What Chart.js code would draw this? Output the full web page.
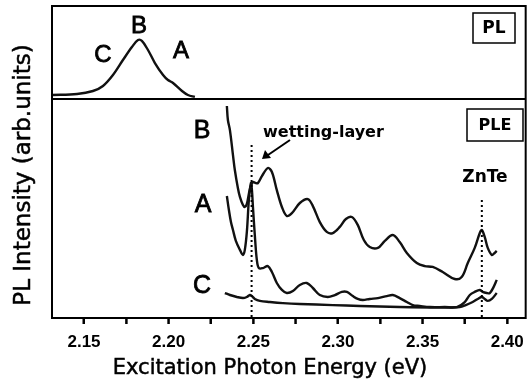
<!DOCTYPE html>
<html>
<head>
<meta charset="utf-8">
<script src="https://cdn.jsdelivr.net/npm/chart.js@4.4.1/dist/chart.umd.min.js"></script>
<style>
  html, body { margin: 0; padding: 0; background: #fff; }
  canvas { display: block; }
</style>
</head>
<body>
<canvas id="spectra" width="532" height="382"></canvas>
<script>
// PL spectrum (top panel), energy in eV, intensity in arb. units
const plEnergy    = [2.1311, 2.1459, 2.1553, 2.1612, 2.1671, 2.1730, 2.1783, 2.1819, 2.1842, 2.1878, 2.1919, 2.1967, 2.1996, 2.2026, 2.2079, 2.2114, 2.2155];
const plIntensity = [0.043, 0.054, 0.086, 0.140, 0.258, 0.419, 0.559, 0.634, 0.624, 0.527, 0.387, 0.258, 0.204, 0.172, 0.086, 0.043, 0.022];

// PLE spectra detected at B, A and C
const pleBEnergy    = [2.2344, 2.2350, 2.2362, 2.2380, 2.2391, 2.2409, 2.2421, 2.2439, 2.2450, 2.2462, 2.2480, 2.2498, 2.2515, 2.2527, 2.2551, 2.2586, 2.2610, 2.2639, 2.2669, 2.2698, 2.2728, 2.2775, 2.2822, 2.2852, 2.2893, 2.2934, 2.2970, 2.3011, 2.3047, 2.3082, 2.3117, 2.3153, 2.3188, 2.3236, 2.3277, 2.3324, 2.3365, 2.3407, 2.3466, 2.3513, 2.3560, 2.3619, 2.3690, 2.3731, 2.3767, 2.3808, 2.3838, 2.3850, 2.3867, 2.3885, 2.3909, 2.3926, 2.3938];
const pleBIntensity = [0.968, 0.904, 0.858, 0.744, 0.676, 0.594, 0.553, 0.516, 0.507, 0.521, 0.589, 0.621, 0.616, 0.616, 0.648, 0.685, 0.667, 0.584, 0.507, 0.466, 0.479, 0.525, 0.543, 0.511, 0.438, 0.393, 0.388, 0.416, 0.452, 0.461, 0.425, 0.356, 0.324, 0.320, 0.352, 0.379, 0.347, 0.297, 0.251, 0.237, 0.233, 0.210, 0.178, 0.187, 0.251, 0.320, 0.388, 0.402, 0.370, 0.320, 0.288, 0.297, 0.306];

const pleAEnergy    = [2.2344, 2.2356, 2.2368, 2.2380, 2.2397, 2.2421, 2.2439, 2.2450, 2.2462, 2.2474, 2.2486, 2.2492, 2.2498, 2.2509, 2.2521, 2.2533, 2.2557, 2.2586, 2.2610, 2.2639, 2.2669, 2.2698, 2.2734, 2.2775, 2.2816, 2.2852, 2.2893, 2.2940, 2.2982, 2.3023, 2.3053, 2.3088, 2.3117, 2.3147, 2.3188, 2.3236, 2.3289, 2.3324, 2.3365, 2.3407, 2.3442, 2.3483, 2.3543, 2.3631, 2.3702, 2.3749, 2.3779, 2.3808, 2.3838, 2.3855, 2.3879, 2.3897, 2.3920, 2.3938];
const pleAIntensity = [0.557, 0.493, 0.438, 0.402, 0.352, 0.311, 0.288, 0.311, 0.393, 0.539, 0.616, 0.584, 0.507, 0.379, 0.265, 0.228, 0.228, 0.237, 0.210, 0.160, 0.128, 0.114, 0.123, 0.151, 0.160, 0.137, 0.105, 0.096, 0.105, 0.119, 0.119, 0.100, 0.087, 0.082, 0.087, 0.091, 0.100, 0.105, 0.091, 0.073, 0.059, 0.055, 0.050, 0.050, 0.050, 0.073, 0.105, 0.119, 0.128, 0.119, 0.114, 0.114, 0.142, 0.174];

const pleCEnergy    = [2.2332, 2.2362, 2.2403, 2.2439, 2.2462, 2.2480, 2.2492, 2.2509, 2.2539, 2.2598, 2.2675, 2.2775, 2.2970, 2.3129, 2.3365, 2.3602, 2.3720, 2.3755, 2.3796, 2.3826, 2.3850, 2.3867, 2.3885, 2.3909, 2.3938];
const pleCIntensity = [0.114, 0.105, 0.096, 0.091, 0.096, 0.105, 0.100, 0.087, 0.078, 0.073, 0.068, 0.064, 0.059, 0.055, 0.050, 0.048, 0.050, 0.059, 0.073, 0.087, 0.096, 0.087, 0.078, 0.087, 0.114];

// x axis
const energyRange = [2.1311, 2.4109];
const majorTicks = [2.15, 2.20, 2.25, 2.30, 2.35, 2.40];
const minorTicks = [2.175, 2.225, 2.275, 2.325, 2.375];

// marked energies
const wettingLayerEnergy = 2.249;
const znteEnergy = 2.385;

// top panel takes 93 of the 312 px plot height
const topShare = 93 / 312;

function toPoints(xs, ys) {
    return xs.map((x, i) => ({ x: x, y: ys[i] }));
}

function curve(xs, ys, axis) {
    return {
        data: toPoints(xs, ys),
        yAxisID: axis,
        borderColor: "#111",
        borderWidth: 2.4,
        pointRadius: 0,
        tension: 0.35,
        fill: false
    };
}

// filled text with a thin outline so it reads a bit heavier
function heavyText(ctx, text, x, y, weight) {
    ctx.fillText(text, x, y);
    ctx.lineWidth = weight;
    ctx.strokeText(text, x, y);
}

function drawBox(ctx, x, y, w, h, text, size) {
    ctx.lineWidth = 1.5;
    ctx.strokeRect(x, y, w, h);
    ctx.font = "bold " + size + "px 'DejaVu Sans'";
    ctx.textAlign = "center";
    ctx.textBaseline = "middle";
    ctx.fillText(text, x + w / 2, y + h / 2 + 1);
}

// frame, divider, dotted markers and labels
const panelDecor = {
    id: "panelDecor",
    afterDraw(chart) {
        const ctx = chart.ctx;
        const area = chart.chartArea;
        const xs = chart.scales.x;
        const yTop = chart.scales.yPL;
        const splitY = yTop.getPixelForValue(0);

        ctx.save();
        ctx.strokeStyle = "#000";
        ctx.fillStyle = "#000";

        ctx.lineWidth = 2;
        ctx.strokeRect(area.left, area.top, area.right - area.left, area.bottom - area.top);
        ctx.beginPath();
        ctx.moveTo(area.left, splitY);
        ctx.lineTo(area.right, splitY);
        ctx.stroke();

        // tick marks below the energy axis
        ctx.lineWidth = 2;
        ctx.beginPath();
        majorTicks.concat(minorTicks).forEach(v => {
            const px = xs.getPixelForValue(v);
            ctx.moveTo(px, area.bottom);
            ctx.lineTo(px, area.bottom + 6);
        });
        ctx.stroke();

        // dotted guide lines
        ctx.setLineDash([2, 3]);
        ctx.lineWidth = 2;
        const wx = xs.getPixelForValue(wettingLayerEnergy);
        const zx = xs.getPixelForValue(znteEnergy);
        ctx.beginPath();
        ctx.moveTo(wx, 145);
        ctx.lineTo(wx, area.bottom);
        ctx.moveTo(zx, 200);
        ctx.lineTo(zx, area.bottom);
        ctx.stroke();
        ctx.setLineDash([]);

        // arrow to the wetting-layer peak
        ctx.lineWidth = 2;
        ctx.beginPath();
        ctx.moveTo(290, 140);
        ctx.lineTo(268, 155);
        ctx.stroke();
        ctx.beginPath();
        ctx.moveTo(262, 159);
        ctx.lineTo(265, 150);
        ctx.lineTo(271, 158);
        ctx.closePath();
        ctx.fill();

        // curve letters
        ctx.textAlign = "center";
        ctx.textBaseline = "middle";
        ctx.font = "24px 'Liberation Sans'";
        heavyText(ctx, "C", 103, 55, 0.8);
        heavyText(ctx, "B", 139, 26, 0.8);
        heavyText(ctx, "A", 181, 51, 0.8);
        ctx.font = "25px 'Liberation Sans'";
        heavyText(ctx, "B", 202, 131, 0.8);
        heavyText(ctx, "A", 203, 205, 0.8);
        heavyText(ctx, "C", 202, 286, 0.8);

        ctx.font = "bold 16px 'DejaVu Sans'";
        ctx.textAlign = "left";
        ctx.textBaseline = "alphabetic";
        ctx.fillText("wetting-layer", 263, 137);
        ctx.font = "bold 17px 'DejaVu Sans'";
        ctx.textAlign = "center";
        ctx.fillText("ZnTe", 485, 182);

        drawBox(ctx, 473, 13, 42, 30, "PL", 17);
        drawBox(ctx, 467, 109, 56, 32, "PLE", 16);

        // x axis title
        ctx.font = "21px 'DejaVu Sans'";
        ctx.textAlign = "center";
        ctx.textBaseline = "alphabetic";
        heavyText(ctx, "Excitation Photon Energy (eV)", 270, 374, 0.5);

        // y axis title
        ctx.translate(24, 175);
        ctx.rotate(-Math.PI / 2);
        ctx.font = "23px 'DejaVu Sans'";
        ctx.textAlign = "center";
        ctx.textBaseline = "middle";
        heavyText(ctx, "PL Intensity (arb.units)", 0, 0, 0.5);
        ctx.restore();
    }
};

new Chart(document.getElementById("spectra"), {
    type: "line",
    data: {
        datasets: [
            curve(plEnergy, plIntensity, "yPL"),
            curve(pleBEnergy, pleBIntensity, "yPLE"),
            curve(pleAEnergy, pleAIntensity, "yPLE"),
            curve(pleCEnergy, pleCIntensity, "yPLE")
        ]
    },
    options: {
        responsive: false,
        animation: false,
        devicePixelRatio: 1,
        layout: { padding: { left: 52, right: 6, top: 6, bottom: 0 } },
        plugins: {
            legend: { display: false },
            tooltip: { enabled: false }
        },
        scales: {
            x: {
                type: "linear",
                min: energyRange[0],
                max: energyRange[1],
                afterBuildTicks: (scale) => {
                    scale.ticks = majorTicks.concat(minorTicks)
                        .sort((a, b) => a - b)
                        .map(v => ({ value: v }));
                },
                afterFit: (scale) => { scale.height = 64; },
                border: { display: false },
                grid: {
                    drawOnChartArea: false,
                    drawTicks: true,
                    tickLength: 6,
                    tickColor: "#000",
                    tickWidth: 2
                },
                ticks: {
                    autoSkip: false,
                    maxRotation: 0,
                    padding: 8,
                    color: "#000",
                    font: { family: "'Liberation Sans'", size: 17, weight: "bold" },
                    callback: (v) => majorTicks.some(m => Math.abs(m - v) < 1e-6) ? v.toFixed(2) : ""
                },
                title: { display: false }
            },
            yPL: {
                type: "linear",
                display: false,
                min: -(1 - topShare) / topShare,
                max: 1
            },
            yPLE: {
                type: "linear",
                display: false,
                min: 0,
                max: 1 / (1 - topShare)
            }
        }
    },
    plugins: [panelDecor]
});
</script>
</body>
</html>
